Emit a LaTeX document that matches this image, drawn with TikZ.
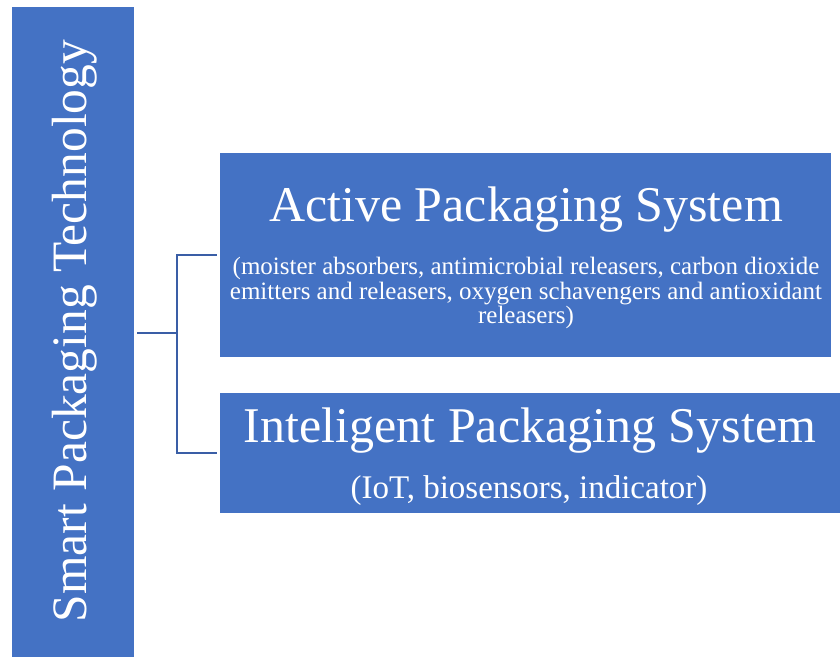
\documentclass[tikz,border=0pt]{standalone}
\usepackage{fontspec}
\setmainfont{Liberation Serif}
\definecolor{boxblue}{HTML}{4472C4}
\definecolor{linkblue}{HTML}{3A5EA6}
\begin{document}
\begin{tikzpicture}[x=1pt,y=-1pt,
  panel/.style={fill=boxblue,draw=none,inner sep=0pt},
  wtext/.style={text=white,inner sep=0pt,align=center},
  link/.style={draw=linkblue,line width=2.2pt}]
\useasboundingbox (0,0) rectangle (840,657);
% boxes
\node[panel,minimum width=122pt,minimum height=650pt] (root) at (73,332) {};
\node[panel,minimum width=611pt,minimum height=204pt] (active) at (525.5,255) {};
\node[panel,minimum width=620pt,minimum height=120pt] (intel) at (530,453) {};
% labels
\node[wtext,rotate=90,font=\fontsize{49.5}{54}\selectfont] (rootlbl) at (75,331) {Smart Packaging Technology};
\node[wtext,font=\fontsize{50}{54}\selectfont] (acttitle) at (526,210) {Active Packaging System};
\node[wtext,font=\fontsize{25}{24.5}\selectfont] (actsub) at (526,293) {(moister absorbers, antimicrobial releasers, carbon dioxide\\emitters and releasers, oxygen schavengers and antioxidant\\releasers)};
\node[wtext,font=\fontsize{50}{54}\selectfont] (inttitle) at (530,431) {Inteligent Packaging System};
\node[wtext,font=\fontsize{33}{36}\selectfont] (intsub) at (529,491) {(IoT, biosensors, indicator)};
% connectors
\coordinate (fork) at (177,333);
\draw[link] (root.east |- fork) ++(3,0) -- (fork);
\draw[link] (active.west |- 0,255) ++(-3,0) -- (177,255) -- (177,453) -- ([xshift=-3pt]intel.west |- 0,453);
\end{tikzpicture}
\end{document}
